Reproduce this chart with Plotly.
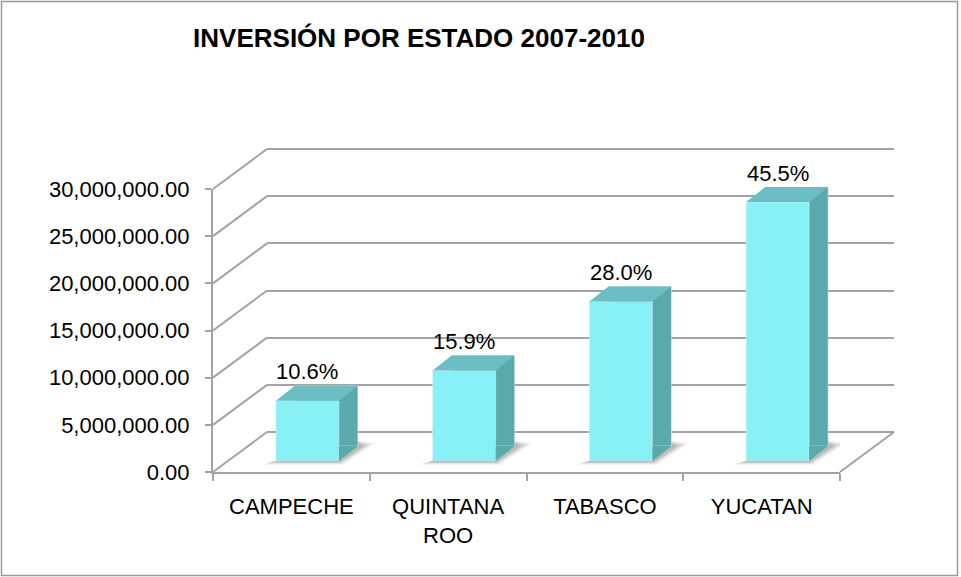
import plotly.graph_objects as go

# data
states = ["CAMPECHE", "QUINTANA<br>ROO", "TABASCO", "YUCATAN"]
inversion = [6_400_000, 9_600_000, 16_900_000, 27_450_000]
pct_labels = ["10.6%", "15.9%", "28.0%", "45.5%"]
y_ticks = [0, 5_000_000, 10_000_000, 15_000_000, 20_000_000, 25_000_000, 30_000_000]

FONT = "Liberation Sans, Arial, sans-serif"
FACE = "#88F1F6"
SIDE = "#5AA9AB"
TOP = "#6BBEC4"
GRID = "#A3A3A3"

W, H = 961, 577
L, R, T, B = 213, 894, 145, 472          # plot area in pixels
BACK = (54, 40)                          # wall depth offset (px right, px up)
BAR = (16, 11)                           # bar front face offset
DEPTH = (19, 15)                         # bar depth
HALF = 31.5                              # half bar width in px
YMAX = 30_000_000
PXH = 283                                # px for 0..30M


def dom(dx, dy, w=627, h=PXH):
    x0 = L + dx
    y0 = B - dy
    return ([(x0 - L) / (R - L), (x0 + w - L) / (R - L)],
            [(B - y0) / (B - T), (B - y0 + h) / (B - T)])


def px_x(px):
    return (px - L) / (R - L)


def px_y(py):
    return (B - py) / (B - T)


fig = go.Figure()
fig.add_trace(go.Scatter(x=states, y=inversion, mode="none", xaxis="x", yaxis="y",
                         showlegend=False, hoverinfo="skip"))
fig.add_trace(go.Scatter(x=[], y=[], xaxis="x2", yaxis="y2", showlegend=False))
fig.add_trace(go.Bar(x=states, y=inversion, xaxis="x3", yaxis="y3",
                     marker_color=SIDE, width=0.402, showlegend=False, hoverinfo="skip"))
fig.add_trace(go.Bar(x=states, y=inversion, xaxis="x4", yaxis="y4",
                     marker_color=FACE, width=0.402, showlegend=False))

fx, fy = dom(0, 0)
bx, by = dom(*BACK, h=PXH + 3)
sx, sy = dom(BAR[0] + DEPTH[0], BAR[1] + DEPTH[1])
cx, cy = dom(*BAR)

hidden_x = dict(type="category", range=[-0.5, 3.5], visible=False)
hidden_y = dict(range=[0, YMAX], visible=False)

fig.update_layout(
    width=W, height=H,
    margin=dict(l=L, r=W - R, t=T, b=H - B),
    paper_bgcolor="white", plot_bgcolor="rgba(0,0,0,0)",
    font=dict(family=FONT, size=22, color="black"),
    title=dict(text="<b>INVERSIÓN POR ESTADO 2007-2010</b>", xref="container", yref="container",
               x=419 / W, y=1 - 38 / H, xanchor="center", yanchor="middle",
               font=dict(family=FONT, size=26, color="black")),
    showlegend=False,
    xaxis=dict(type="category", range=[-0.5, 3.5], domain=fx, anchor="y",
               showline=True, linecolor=GRID, linewidth=2, showgrid=False,
               ticks="outside", tickson="boundaries", ticklen=7, tickcolor=GRID, tickwidth=2,
               ticklabelstandoff=14, tickfont=dict(size=22)),
    yaxis=dict(range=[0, YMAX], domain=fy, anchor="x", tickvals=y_ticks,
               tickformat=",.2f", showline=True, linecolor=GRID, linewidth=2,
               showgrid=False, zeroline=False, ticks="outside", ticklen=6,
               tickcolor=GRID, tickwidth=2, ticklabelstandoff=11, tickfont=dict(size=22)),
    xaxis2=dict(hidden_x, domain=bx, anchor="y2"),
    yaxis2=dict(range=[0, YMAX * (PXH + 3) / PXH], domain=by, anchor="x2", tickvals=y_ticks,
                showgrid=True, gridcolor=GRID, gridwidth=2, zeroline=True,
                zerolinecolor=GRID, zerolinewidth=2, showticklabels=False, showline=False),
    xaxis3=dict(hidden_x, domain=sx, anchor="y3"),
    yaxis3=dict(hidden_y, domain=sy, anchor="x3"),
    xaxis4=dict(hidden_x, domain=cx, anchor="y4"),
    yaxis4=dict(hidden_y, domain=cy, anchor="x4"),
)

shapes = []
# diagonals from the front axis to the back wall (domain refs so they are not clipped)
for v in y_ticks:
    shapes.append(dict(type="line", xref="x domain", yref="y domain",
                       xsizemode="pixel", ysizemode="pixel",
                       xanchor=0, yanchor=v / YMAX, x0=0, y0=0, x1=BACK[0], y1=BACK[1],
                       line=dict(color=GRID, width=2), layer="above"))
shapes.append(dict(type="line", xref="x domain", yref="y domain",
                   xsizemode="pixel", ysizemode="pixel",
                   xanchor=1, yanchor=0, x0=0, y0=0, x1=BACK[0], y1=BACK[1],
                   line=dict(color=GRID, width=2), layer="above"))

dx, dy = DEPTH
for i, v in enumerate(inversion):
    # soft floor shadow, anchored on the front floor so it sits under the bars
    for k, a in enumerate([0.07, 0.10, 0.13, 0.16]):
        pts = [(-HALF - 14 + 3 * k, -4 + k), (HALF + 4 - k, -4 + k),
               (HALF + dx + 18 - 4 * k, dy + 3 - k), (HALF + dx - 6, dy + 6)]
        path = "M " + " L ".join(f"{px + BAR[0]},{py + BAR[1]}" for px, py in pts) + " Z"
        shapes.append(dict(type="path", xref="x", yref="y", xsizemode="pixel", ysizemode="pixel",
                           xanchor=i, yanchor=0, path=path,
                           fillcolor=f"rgba(80,80,80,{a})", line=dict(width=0), layer="below"))
    # top face
    shapes.append(dict(type="path", xref="x4", yref="y4", xsizemode="pixel", ysizemode="pixel",
                       xanchor=i, yanchor=v,
                       path=f"M {-HALF},0 L {HALF},0 L {HALF+dx},{dy} L {-HALF+dx},{dy} Z",
                       fillcolor=TOP, line=dict(width=0), layer="above"))
    # lower corner of the side face
    shapes.append(dict(type="path", xref="x4", yref="y4", xsizemode="pixel", ysizemode="pixel",
                       xanchor=i, yanchor=0,
                       path=f"M {HALF},0 L {HALF+dx},{dy} L {HALF},{dy} Z",
                       fillcolor=SIDE, line=dict(width=0), layer="above"))

# outer chart border
shapes.append(dict(type="rect", xref="paper", yref="paper",
                   x0=px_x(1.5), x1=px_x(957.5), y0=px_y(575.5), y1=px_y(1.5),
                   line=dict(color="#9A9A9A", width=1.5), layer="above"))

annotations = [dict(x=i, y=v, xref="x4", yref="y4", text=t, showarrow=False,
                    yshift=29, yanchor="middle", font=dict(size=22))
               for i, (v, t) in enumerate(zip(inversion, pct_labels))]

fig.update_layout(shapes=shapes, annotations=annotations)
fig.write_html("out.html", config={"displayModeBar": False},
               post_script="document.body.style.margin='0';")
